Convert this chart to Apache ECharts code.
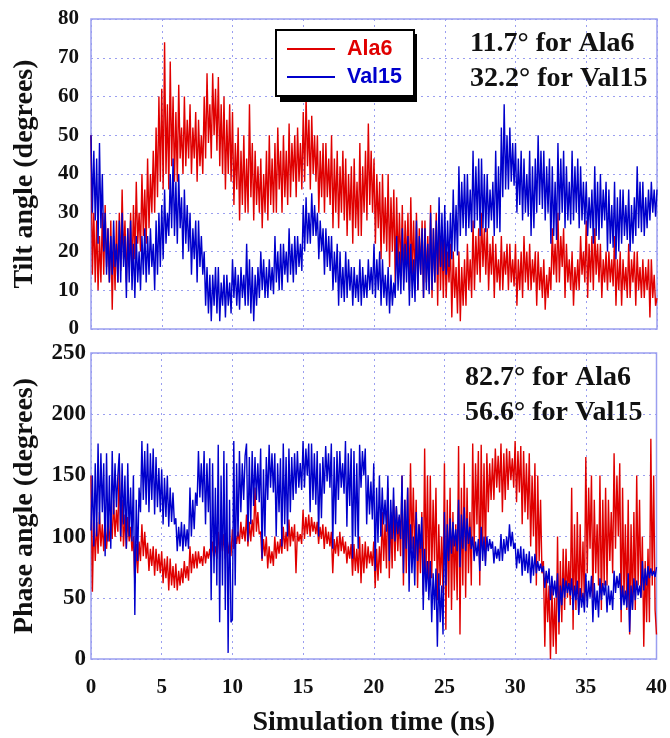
<!DOCTYPE html>
<html>
<head>
<meta charset="utf-8">
<script src="https://cdn.jsdelivr.net/npm/echarts@6/dist/echarts.min.js"></script>
<style>
  html, body { margin: 0; padding: 0; background: #fff; }
  #chart { width: 670px; height: 738px; }
</style>
</head>
<body>
<div id="chart"></div>
<script>
// Sampling interval of the trajectories (ns)
const STEP_NS = 0.1;

const seriesNames = ['Ala6', 'Val15'];
const xTicks = [0, 5, 10, 15, 20, 25, 30, 35, 40];

// Tilt angle (degrees), one value every 0.1 ns, 0–40 ns (one row = 5 ns)
const tiltAla6 = [
  50,14,30,12,28, 10,24,12,30,14, 32,16,26,12,28, 5,24,10,28,12, 30,15,36,18,28, 12,26,16,30,14, 32,18,38,22,30, 20,40,24,36,22, 44,26,40,30,46, 30,52,34,60,38,
  62,36,74,40,58, 36,69,42,60,38, 56,38,63,44,52, 40,60,42,54,44, 58,40,52,44,56, 38,54,42,50,40, 60,44,66,48,58, 44,66,50,62,46, 65,42,58,40,60, 36,54,40,58,38,
  56,32,48,36,52, 28,46,32,50,30, 44,30,58,34,48, 28,46,32,42,30, 44,26,40,30,46, 28,50,32,44,30, 48,30,52,36,46, 30,50,34,46,32, 53,34,48,38,50, 34,52,38,48,36,
  56,38,60,42,54, 36,55,40,50,38, 50,30,46,34,48, 30,48,34,44,32, 50,26,44,30,46, 26,42,30,46,28, 44,24,40,28,42, 22,44,26,38,24, 48,24,42,30,46, 28,53,32,46,30,
  44,22,40,26,38, 18,40,22,34,20, 40,16,34,20,36, 12,34,16,30,14, 32,12,28,16,30, 10,34,14,28,12, 30,10,26,14,28, 8,28,12,24,10, 32,8,26,12,30, 6,28,10,24,8,
  24,8,20,12,22, 3,20,8,16,4, 20,2,16,6,18, 6,22,10,18,8, 28,10,24,14,26, 12,30,16,26,14, 26,10,22,14,24, 8,22,12,18,10, 24,10,20,14,22, 10,22,12,18,11,
  22,6,18,10,20, 8,24,12,20,10, 22,10,18,12,20, 6,20,10,16,8, 18,5,14,8,16, 10,26,14,22,12, 30,12,24,16,26, 8,22,12,18,10, 20,6,16,10,18, 10,24,14,20,12,
  28,8,22,12,24, 10,26,14,22,12, 22,8,18,12,20, 10,20,12,18,11, 24,6,18,10,20, 6,18,10,16,8, 22,8,18,12,20, 6,20,10,16,8, 18,8,16,10,18, 3,18,8,14,6,
  8
];
const tiltVal15 = [
  50,30,46,28,44, 22,48,26,40,20, 30,14,26,12,24, 14,28,16,22,12, 28,12,30,16,24, 8,26,12,28,10, 22,8,24,12,20, 10,24,14,26,12, 24,14,26,16,22, 10,28,14,30,16,
  32,18,36,22,30, 24,40,26,44,24, 38,22,40,26,34, 18,36,22,32,20, 30,14,26,18,28, 12,28,16,24,14, 20,6,16,4,14, 2,14,6,16,4, 16,2,12,6,14, 3,14,6,12,4,
  18,8,16,6,14, 5,16,8,14,6, 22,6,18,4,16, 2,14,6,16,8, 20,10,18,8,16, 8,18,10,16,9, 24,12,20,10,22, 10,22,14,20,12, 26,14,22,12,24, 14,24,16,22,15,
  32,20,34,22,30, 22,35,24,32,24, 30,18,28,20,26, 14,26,16,24,15, 24,10,20,12,22, 6,20,8,16,7, 20,8,18,10,16, 6,16,8,14,7, 18,6,16,8,14, 8,18,10,16,9,
  22,8,18,10,20, 6,18,8,14,6, 16,4,14,6,12, 8,24,10,20,9, 26,10,22,12,24, 6,22,8,18,7, 28,10,24,14,26, 8,26,10,22,9, 30,10,26,12,28, 14,34,16,30,15,
  32,14,28,16,30, 18,36,20,32,19, 42,24,38,26,40, 24,40,26,36,25, 46,26,42,28,44, 24,44,26,40,25, 40,26,36,28,38, 24,46,26,42,25, 52,34,58,36,50, 36,52,38,48,37,
  48,30,44,32,46, 28,44,30,40,29, 46,24,42,26,44, 30,50,32,46,31, 46,28,42,30,44, 22,42,24,38,23, 48,28,44,30,46, 26,42,28,38,27, 46,28,42,30,44, 26,42,28,38,27,
  38,24,34,26,36, 22,42,24,38,23, 40,26,36,28,38, 20,36,22,32,21, 38,18,34,20,36, 22,36,24,32,23, 36,20,32,22,34, 24,42,26,38,25, 38,24,34,26,36, 28,38,30,36,29,
  36
];

// Phase angle (degrees), one value every 0.1 ns, 0–40 ns (one row = 5 ns)
const phaseAla6 = [
  150,55,118,80,112, 86,120,92,110,88, 116,90,108,96,118, 98,130,100,122,104, 160,96,130,92,118, 90,116,96,108,88, 100,62,94,70,96, 80,110,84,104,82, 95,72,90,76,92, 68,90,72,86,70,
  88,62,82,66,84, 56,82,60,76,58, 78,56,72,60,74, 62,80,66,76,64, 92,70,86,74,88, 74,88,78,84,76, 92,78,88,82,90, 80,96,84,92,82, 104,86,100,88,102, 82,100,86,96,84,
  106,90,102,94,104, 94,112,98,108,96, 118,92,112,96,114, 100,140,104,120,102, 104,80,98,84,100, 74,92,78,88,76, 100,82,96,86,98, 86,108,90,104,88, 114,92,108,96,110, 70,104,96,102,94,
  122,98,116,102,118, 100,116,104,112,102, 112,94,108,98,110, 90,108,94,104,92, 104,70,98,86,100, 84,104,88,100,86, 96,78,92,82,94, 68,94,72,90,70, 100,62,94,70,96, 74,92,78,88,76,
  96,58,90,64,92, 70,120,80,110,74, 140,66,120,74,130, 80,124,88,116,84, 150,60,130,70,140, 76,160,90,140,82, 130,58,110,70,120, 52,172,70,150,60, 150,66,130,80,140, 48,110,60,100,54,
  160,24,130,50,140, 40,120,56,110,48, 174,20,140,60,160, 50,140,70,120,60, 176,90,160,110,170, 60,175,90,160,80, 168,120,160,130,164, 130,172,140,166,136, 176,120,168,130,172, 138,170,146,164,140,
  178,128,170,136,174, 110,170,120,160,114, 168,92,150,100,160, 60,150,80,130,70, 80,10,70,30,60, 0,60,10,50,4, 100,20,80,30,90, 40,90,50,80,44, 140,24,110,40,120, 38,110,50,96,44,
  165,70,140,90,150, 50,130,70,110,60, 150,40,130,60,140, 60,130,80,120,70, 168,90,150,100,160, 30,140,50,110,40, 130,20,110,40,120, 40,150,60,130,50, 100,10,80,30,90, 30,180,60,150,40,
  20
];
const phaseVal15 = [
  105,150,92,160,100, 176,110,168,120,160, 84,168,96,150,90, 170,118,160,124,150, 168,100,160,110,150, 90,160,100,140,96, 150,36,130,80,140, 120,178,130,170,126, 176,120,168,130,172, 118,165,124,156,120,
  155,110,148,116,150, 108,140,112,136,110, 115,88,108,92,112, 88,110,92,106,90, 140,100,130,106,136, 125,170,132,160,128, 170,110,160,120,164, 48,160,70,140,60, 175,30,150,60,170, 40,160,5,130,30,
  32,178,60,160,100, 170,120,160,130,166, 176,96,165,110,170, 125,165,130,160,128, 172,82,155,100,165, 130,175,140,168,136, 168,100,160,120,164, 92,176,110,165,100, 172,120,165,130,168, 135,170,140,160,138,
  178,140,172,150,176, 120,176,130,168,126, 170,100,160,115,165, 135,174,145,168,140, 176,90,165,110,170, 130,170,140,160,135, 178,108,168,125,172, 82,170,100,160,90, 175,140,170,150,172, 110,150,118,145,114,
  160,72,140,95,150, 100,140,110,130,104, 150,80,130,98,140, 96,125,102,118,98, 150,70,130,90,140, 55,110,70,100,60, 120,80,110,90,116, 40,90,55,80,48, 80,30,70,40,74, 10,70,30,60,20,
  120,60,110,80,115, 86,112,92,106,88, 130,75,118,90,124, 88,115,94,108,90, 100,80,96,84,98, 72,108,80,100,76, 100,88,98,90,96, 78,92,82,90,80, 102,80,98,86,100, 88,110,92,104,90,
  95,74,90,78,92, 68,90,72,86,70, 88,62,84,68,86, 70,80,72,78,71, 76,58,72,62,74, 48,68,52,64,50, 70,30,60,44,66, 50,64,54,62,52, 66,40,60,48,64, 36,58,42,54,38,
  70,42,64,50,68, 30,62,40,56,34, 66,48,62,52,64, 38,60,44,56,40, 72,54,68,58,70, 40,60,44,56,42, 70,22,60,40,66, 48,64,52,60,50, 80,56,74,60,76, 66,74,68,72,67,
  75
];

const RED = '#e00000';
const BLUE = '#0000cc';
const GRID_COLOR = '#9a9ef0';
const SERIF = '"Liberation Serif", "Times New Roman", serif';
const SANS = '"Liberation Sans", Arial, sans-serif';

const toPairs = arr => arr.map((v, i) => [+(i * STEP_NS).toFixed(1), v]);

const tickFont = { fontFamily: SERIF, fontWeight: 'bold', color: '#111' };
const nameFont = { fontFamily: SERIF, fontWeight: 'bold', fontSize: 28, color: '#111' };
const splitLine = { show: true, lineStyle: { color: GRID_COLOR, width: 1, type: [2, 4] } };

function xAxis(gridIndex, showLabels) {
  return {
    type: 'value', gridIndex, min: xTicks[0], max: xTicks[xTicks.length - 1], interval: 5,
    axisLine: { show: false }, axisTick: { show: false },
    axisLabel: Object.assign({ show: showLabels, margin: 18, fontSize: 21 }, tickFont),
    splitLine,
    name: showLabels ? 'Simulation time (ns)' : '',
    nameLocation: 'middle', nameGap: 50,
    nameTextStyle: nameFont
  };
}

function yAxis(gridIndex, max, interval, name, fontSize, margin) {
  return {
    type: 'value', gridIndex, min: 0, max, interval,
    axisLine: { show: false }, axisTick: { show: false },
    axisLabel: Object.assign({ margin, fontSize }, tickFont),
    splitLine,
    name, nameLocation: 'middle', nameGap: 52,
    nameTextStyle: nameFont
  };
}

function line(name, data, color, xi, yi) {
  return {
    name, type: 'line', xAxisIndex: xi, yAxisIndex: yi, data: toPairs(data),
    showSymbol: false, symbol: 'none', animation: false,
    lineStyle: { color, width: 1.4 }, itemStyle: { color }
  };
}

function note(lines, left, top) {
  return {
    type: 'text', left, top, z: 100,
    style: {
      text: lines.join('\n'), fill: '#111', lineHeight: 35,
      font: 'bold 28px ' + SERIF
    }
  };
}

const chart = echarts.init(document.getElementById('chart'), null, { renderer: 'canvas' });
chart.setOption({
  animation: false,
  backgroundColor: '#fff',
  grid: [
    { left: 91, right: 13, top: 19, height: 310, show: true, borderColor: GRID_COLOR, borderWidth: 1.5 },
    { left: 91, right: 13, top: 353, height: 310, show: true, borderColor: GRID_COLOR, borderWidth: 1.5 }
  ],
  xAxis: [xAxis(0, false), xAxis(1, true)],
  yAxis: [
    yAxis(0, 80, 10, 'Tilt angle (degrees)', 21, 12),
    yAxis(1, 250, 50, 'Phase angle (degrees)', 23, 5)
  ],
  legend: {
    left: 276, top: 30, orient: 'vertical', z: 20,
    data: [
      { name: seriesNames[0], textStyle: { color: RED } },
      { name: seriesNames[1], textStyle: { color: BLUE } }
    ],
    icon: 'rect', itemWidth: 48, itemHeight: 2, itemGap: 6,
    padding: [8, 12, 8, 11],
    backgroundColor: '#fff', borderColor: '#000', borderWidth: 2,
    textStyle: { fontFamily: SANS, fontWeight: 'bold', fontSize: 21.5, padding: [0, 0, 0, 7] }
  },
  graphic: [
    // drop shadow behind the legend box
    { type: 'rect', z: 19, shape: { x: 280, y: 34, width: 137, height: 68 }, style: { fill: '#000' } },
    note(['11.7° for Ala6', '32.2° for Val15'], 470, 26),
    note(['82.7° for Ala6', '56.6° for Val15'], 465, 360)
  ],
  series: [
    line(seriesNames[0], tiltAla6, RED, 0, 0),
    line(seriesNames[1], tiltVal15, BLUE, 0, 0),
    line(seriesNames[0], phaseAla6, RED, 1, 1),
    line(seriesNames[1], phaseVal15, BLUE, 1, 1)
  ]
});
</script>
</body>
</html>
